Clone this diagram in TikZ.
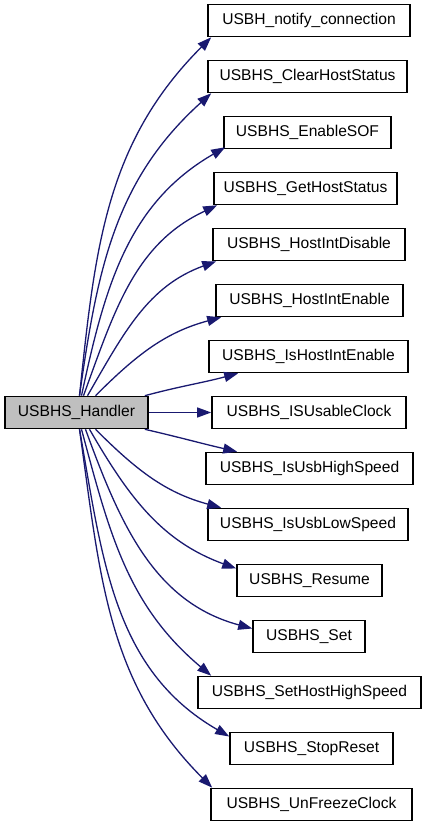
\documentclass[tikz,border=0pt]{standalone}
\usepackage{fontspec}
\setmainfont{Liberation Sans}
\usetikzlibrary{arrows.meta}
\definecolor{cedge}{HTML}{191970}
\definecolor{cfill}{HTML}{BFBFBF}
\tikzset{
  every picture/.style={x=1pt, y=1pt, font=\fontsize{15.6}{18}\selectfont},
  fn/.style={draw=black, line width=1.6pt, minimum height=32pt, inner sep=0pt, align=center},
  call/.style={draw=cedge, line width=1.3pt, -{Triangle[length=14pt, width=10pt]}},
}
\begin{document}
\begin{tikzpicture}
  \useasboundingbox (0,0) rectangle (427,827);
  \node[fn, fill=cfill, minimum width=143pt] (main) at (76.5,414.5) {USBHS\_Handler};
  \foreach \i/\nm/\x/\w/\lbl in {0/notify/309/202/USBH\_notify\_connection,
      1/clear/307.5/199/USBHS\_ClearHostStatus, 2/sof/307.5/167/USBHS\_EnableSOF,
      3/getst/305.5/183/USBHS\_GetHostStatus, 4/intdis/309/192/USBHS\_HostIntDisable,
      5/inten/309.5/187/USBHS\_HostIntEnable, 6/isinten/308.5/199/USBHS\_IsHostIntEnable,
      7/usable/309/194/USBHS\_ISUsableClock, 8/hispeed/309.5/207/USBHS\_IsUsbHighSpeed,
      9/lospeed/308/200/USBHS\_IsUsbLowSpeed, 10/resume/309.5/145/USBHS\_Resume,
      11/set/309/112/USBHS\_Set, 12/sethigh/309.5/223/USBHS\_SetHostHighSpeed,
      13/stopreset/311.5/163/USBHS\_StopReset, 14/unfreeze/311.5/201/USBHS\_UnFreezeClock}
    \node[fn, minimum width=\w pt] (\nm) at (\x,806.5-56*\i) {\lbl};
  \foreach \nm/\sa/\sx/\o/\n/\anc/\dx/\dy in {notify/north/3/84/225/south west/4/0,
      clear/north/3/82/222/south west/4/0, sof/north/5/78/210/south west/2/2,
      getst/north/7/70/205/south west/4/0, intdis/north/11/60/200/south west/4/0,
      inten/north/19/45/195/south west/6/0, isinten/north east/-4/15/195/south west/30/0,
      usable/east/0/0/180/west/0/0, hispeed/south east/-4/-13/167/north west/32/0,
      lospeed/south/19/-45/165/north west/14/0, resume/south/13/-60/160/west/0/12,
      set/south/9/-70/165/west/0/8, sethigh/south/5/-75/140/north west/14/0,
      stopreset/south/3/-80/150/west/0/12, unfreeze/south/3/-82/135/north west/2/0}
    \draw[call] ([xshift=\sx pt]main.\sa) to[out=\o, in=\n] ([xshift=\dx pt, yshift=\dy pt]\nm.\anc);
\end{tikzpicture}
\end{document}
